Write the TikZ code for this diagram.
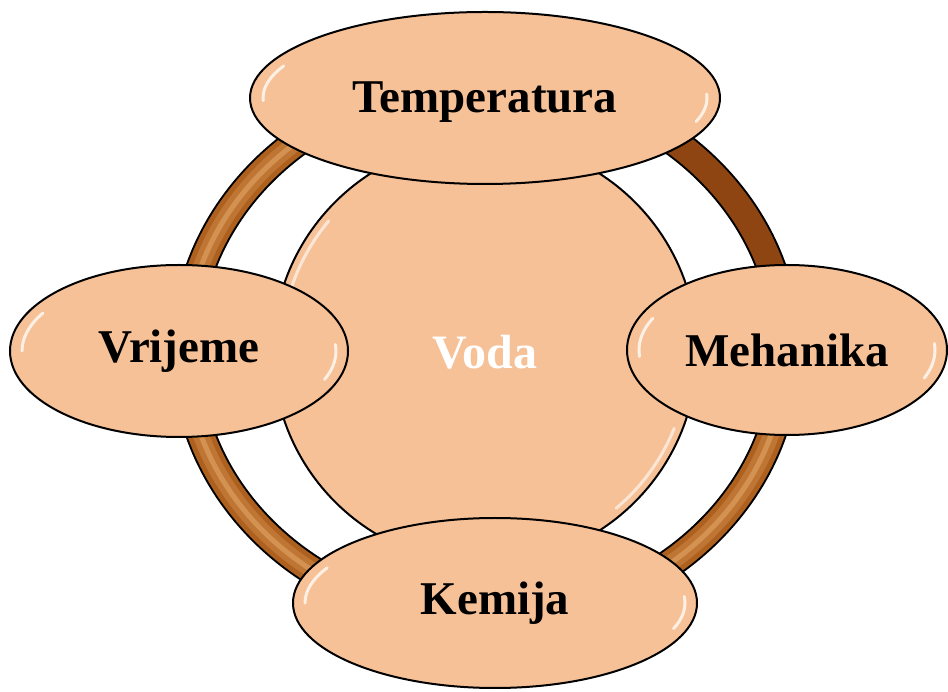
\documentclass[tikz,border=0pt]{standalone}
\usepackage{fontspec}
\setmainfont{Liberation Serif}
\usetikzlibrary{shapes.geometric}
\definecolor{peach}{HTML}{F7C197}
\definecolor{darkring}{HTML}{8F4511}
\definecolor{midring}{HTML}{AE611F}
\definecolor{ringmid2}{HTML}{BF7634}
\definecolor{lightring}{HTML}{D99A5A}
\begin{document}
\begin{tikzpicture}[x=1pt,y=1pt,
  bubble/.style={ellipse, draw=black, line width=2pt, fill=peach, inner sep=0pt,
    font=\fontsize{47}{56}\selectfont\bfseries},
  gloss/.style={white, line width=3pt, line cap=round, opacity=0.75},
  ringedge/.style={line width=30pt, black},
  ringfill/.style={line width=26pt}]
\useasboundingbox[fill=white] (0,0) rectangle (948,691);
\coordinate (rc) at (486,340);
% ring
\draw[ringedge] (rc) ellipse [x radius=300, y radius=269];
\draw[ringfill, darkring] (rc) ++(0:300 and 269) arc[start angle=0, end angle=90, x radius=300, y radius=269];
\foreach \a in {90,180,270}{
  \draw[ringfill, midring] (rc) ++(\a:300 and 269) arc[start angle=\a, end angle=\a+90, x radius=300, y radius=269];
  \draw[line width=16pt, ringmid2] (rc) ++(\a:300 and 269) arc[start angle=\a, end angle=\a+90, x radius=300, y radius=269];
  \draw[line width=5pt, lightring, opacity=0.8] (rc) ++(\a:300 and 269) arc[start angle=\a, end angle=\a+90, x radius=300, y radius=269];
}
% centre
\node[circle, draw=black, line width=2pt, fill=peach, minimum size=424pt, inner sep=0pt,
  text=white, font=\fontsize{48}{56}\selectfont\bfseries] (voda) at (485,339) {Voda};
\draw[gloss, opacity=0.6] (voda.center) ++(140:204) arc[start angle=140, end angle=165, radius=204];
\draw[gloss, opacity=0.6] (voda.center) ++(-50:204) arc[start angle=-50, end angle=-22, radius=204];
% outer bubbles
\node[bubble, minimum width=470pt, minimum height=172pt] (temp) at (485,593) {};
\node[font=\fontsize{47}{56}\selectfont\bfseries, inner sep=0pt] (temptext) at (485,589) {Temperatura};
\node[bubble, minimum width=338pt, minimum height=172pt] (vrij) at (179,340) {Vrijeme};
\node[bubble, minimum width=320pt, minimum height=170pt] (meh) at (787,341) {Mehanika};
\node[bubble, minimum width=404pt, minimum height=170pt] (kem) at (495,88) {Kemija};
% glosses
\draw[gloss] (temp.center) ++(155:222 and 76) arc[start angle=155, end angle=182, x radius=222, y radius=76];
\draw[gloss] (temp.center) ++(-18:222 and 76) arc[start angle=-18, end angle=3, x radius=222, y radius=76];
\draw[gloss] (vrij.center) ++(150:157 and 76) arc[start angle=150, end angle=180, x radius=157, y radius=76];
\draw[gloss] (vrij.center) ++(-22:157 and 76) arc[start angle=-22, end angle=5, x radius=157, y radius=76];
\draw[gloss] (meh.center) ++(155:148 and 75) arc[start angle=155, end angle=185, x radius=148, y radius=75];
\draw[gloss] (meh.center) ++(-22:148 and 75) arc[start angle=-22, end angle=5, x radius=148, y radius=75];
\draw[gloss] (kem.center) ++(152:190 and 75) arc[start angle=152, end angle=180, x radius=190, y radius=75];
\draw[gloss] (kem.center) ++(-20:190 and 75) arc[start angle=-20, end angle=5, x radius=190, y radius=75];
\end{tikzpicture}
\end{document}
